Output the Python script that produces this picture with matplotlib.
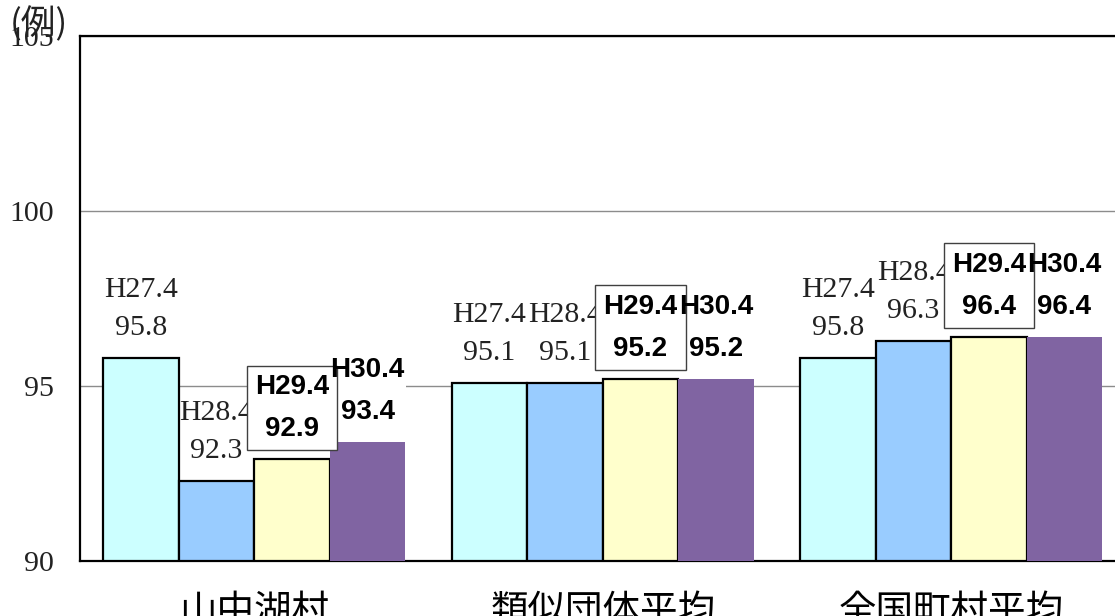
import matplotlib
matplotlib.use("Agg")
import matplotlib.pyplot as plt
import numpy as np

categories = ["山中湖村", "類似団体平均", "全国町村平均"]
series_names = ["H27.4", "H28.4", "H29.4", "H30.4"]
values = {
    "H27.4": [95.8, 95.1, 95.8],
    "H28.4": [92.3, 95.1, 96.3],
    "H29.4": [92.9, 95.2, 96.4],
    "H30.4": [93.4, 95.2, 96.4],
}
colors = ["#CCFFFF", "#99CCFF", "#FFFFCC", "#8064A2"]
yticks = [90, 95, 100, 105]

fig = plt.figure(figsize=(11.15, 6.16), dpi=100)
ax = fig.add_axes([80/1115, 1-561/616, 1045.5/1115, 525/616])

x = np.arange(len(categories))
w = 302/348.5/4
serif = "Liberation Serif"
sans = "Liberation Sans"

for i, name in enumerate(series_names):
    xs = x + (i - 1.5) * w
    vals = values[name]
    if i < 3:
        ax.bar(xs, [v - 90 for v in vals], bottom=90, width=w, color=colors[i],
               edgecolor="black", linewidth=1.6, zorder=3)
    else:
        ax.bar(xs, [v - 90 for v in vals], bottom=90, width=w, color=colors[i],
               edgecolor="none", linewidth=0, zorder=3)
    for xx, v in zip(xs, vals):
        txt = f"{name}\n{v:.1f}"
        if i < 2:
            ax.annotate(txt, xy=(xx, v), xytext=(0, 35), textcoords="offset points",
                        ha="center", va="center", fontsize=21.5, family=serif,
                        linespacing=1.6, color="#222222", zorder=5)
        elif i == 2:
            ax.annotate(txt, xy=(xx, v), xytext=(0, 37), textcoords="offset points",
                        ha="center", va="center", fontsize=20, family=sans,
                        fontweight="bold", linespacing=1.8, color="black", zorder=7,
                        bbox=dict(boxstyle="square,pad=0.3", fc="white", ec="#404040", lw=1))
        else:
            # white background (below the boxed label), then text on top
            ax.annotate(txt, xy=(xx, v), xytext=(0, 37), textcoords="offset points",
                        ha="center", va="center", fontsize=20, family=sans,
                        fontweight="bold", linespacing=1.8, color="white", zorder=6,
                        bbox=dict(boxstyle="square,pad=0.05", fc="white", ec="none"))
            ax.annotate(txt, xy=(xx, v), xytext=(0, 37), textcoords="offset points",
                        ha="center", va="center", fontsize=20, family=sans,
                        fontweight="bold", linespacing=1.8, color="black", zorder=8)

ax.set_xlim(-0.5, 2.5)
ax.set_ylim(90, 105)
ax.set_yticks(yticks)
ax.set_yticklabels([str(t) for t in yticks], family=serif, fontsize=21.5, color="#222222")
ax.set_xticks(x)
ax.set_xticklabels(categories, family="Noto Sans CJK JP", fontsize=27)
ax.tick_params(axis="y", length=0, pad=19)
ax.tick_params(axis="x", length=0, pad=22)
ax.grid(axis="y", color="#8c8c8c", linewidth=1, zorder=0)
ax.set_axisbelow(True)
for s in ["left", "top", "bottom"]:
    ax.spines[s].set_linewidth(1.6)
    ax.spines[s].set_color("black")
ax.spines["right"].set_visible(False)

fig.text(39/1115, 1-25/616, "(例)", ha="center", va="center",
         family=["Noto Sans CJK JP", "DejaVu Sans"], fontsize=25, color="#222222")

fig.savefig("out.png", dpi=100)
